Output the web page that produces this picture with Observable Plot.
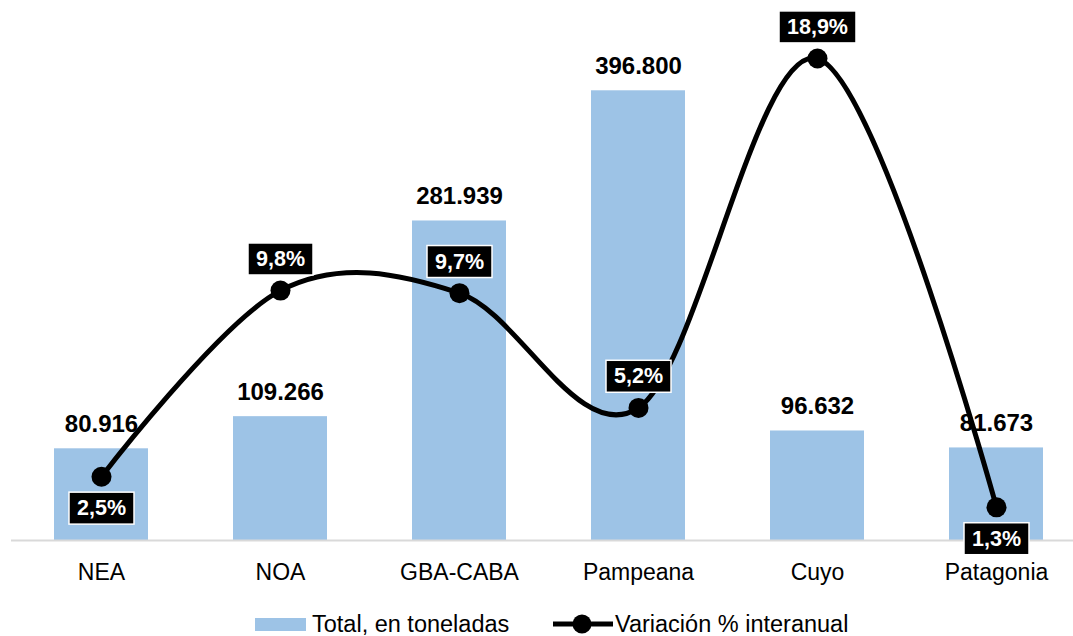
<!DOCTYPE html>
<html><head><meta charset="utf-8">
<script src="https://cdn.jsdelivr.net/npm/d3@7"></script>
<script src="https://cdn.jsdelivr.net/npm/@observablehq/plot@0.6"></script>
<style>
body{margin:0;background:#fff;font-family:"Liberation Sans",Arial,sans-serif;}
#chart{width:1073px;height:600px;overflow:hidden;}
#legend{position:relative;width:1073px;height:36px;font-size:23.5px;color:#000;}
#legend .it{position:absolute;white-space:nowrap;line-height:24px;}
</style></head><body>
<div id="chart"></div>
<div id="legend">
  <div class="it" style="left:255px;top:18px;width:51px;height:13px;background:#9dc3e6"></div>
  <div class="it" style="left:312px;top:12px">Total, en toneladas</div>
  <svg class="it" style="left:553px;top:12px" width="60" height="24"><line x1="0" x2="60" y1="12" y2="12" stroke="#000" stroke-width="5"/><circle cx="29" cy="12" r="9.5" fill="#000"/></svg>
  <div class="it" style="left:615px;top:12px">Variación % interanual</div>
</div>
<script>
const regions = ["NEA","NOA","GBA-CABA","Pampeana","Cuyo","Patagonia"];
const totals = [80916,109266,281939,396800,96632,81673];
const variations = [2.5,9.8,9.7,5.2,18.9,1.3];
const labelBelow = [true,false,false,false,false,true];
const yMax = 450000, pctMax = 20;

const data = regions.map((r,i)=>({region:r,total:totals[i],pct:variations[i],
  pctScaled:variations[i]*yMax/pctMax, below:labelBelow[i]}));
const fmtInt = d3.formatLocale({decimal:",",thousands:".",grouping:[3],currency:["$",""]}).format(",d");
const fmtPct = d => d.toFixed(1).replace(".",",")+"%";

const pctText = (below) => Plot.text(data,{
  filter:d=>d.below===below, x:"region", y:"pctScaled", text:d=>fmtPct(d.pct),
  lineAnchor:"middle", dy: below?31.5:-31.5, fontSize:21.5, fontWeight:"bold", fill:"#fff",
  className:"pct-label"
});

const chart = Plot.plot({
  width:1073, height:600, marginTop:30, marginBottom:60, marginLeft:11, marginRight:0,
  style:{fontFamily:'"Liberation Sans",Arial,sans-serif', background:"#fff", color:"#000", overflow:"visible"},
  x:{type:"band", domain:regions, range:[11.5,1085.5], paddingInner:0.475, paddingOuter:0.2375, label:null},
  y:{domain:[0,yMax], axis:null},
  marks:[
    Plot.barY(data,{x:"region", y:"total", fill:"#9dc3e6"}),
    Plot.ruleY([0],{stroke:"#d9d9d9", strokeWidth:2}),
    Plot.axisX({tickSize:0, tickPadding:23, fontSize:23, label:null}),
    Plot.text(data,{x:"region", y:"total", text:d=>fmtInt(d.total), lineAnchor:"bottom", dy:-17,
      fontSize:24, fontWeight:"bold", fill:"#000"}),
    Plot.line(data,{x:"region", y:"pctScaled", curve:"cardinal", tension:0, stroke:"#000", strokeWidth:5}),
    Plot.dot(data,{x:"region", y:"pctScaled", r:10, fill:"#000"}),
    pctText(true),
    pctText(false)
  ]
});
document.getElementById("chart").append(chart);

const NS="http://www.w3.org/2000/svg";
chart.querySelectorAll("g.pct-label text").forEach(t=>{
  const b=t.getBBox();
  const cy=b.y+b.height/2;
  const rect=document.createElementNS(NS,"rect");
  rect.setAttribute("x", b.x-8);
  rect.setAttribute("width", b.width+16);
  rect.setAttribute("y", cy-16);
  rect.setAttribute("height", 32);
  rect.setAttribute("fill","#000");
  rect.setAttribute("stroke","#fff");
  rect.setAttribute("stroke-width","1.5");
  const tr=t.getAttribute("transform");
  if(tr) rect.setAttribute("transform",tr);
  t.parentNode.insertBefore(rect,t);
});
</script>
</body></html>
